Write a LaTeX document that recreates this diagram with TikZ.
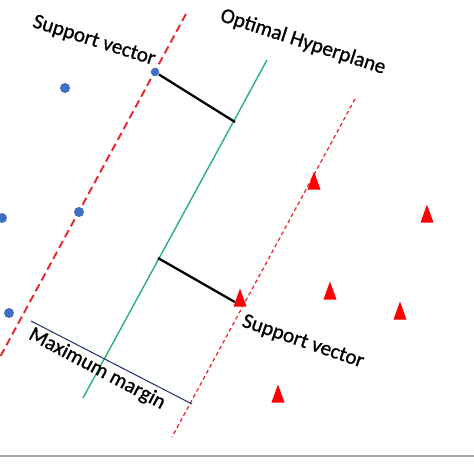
\documentclass[tikz,border=0pt]{standalone}
\usepackage{fontspec}
\setmainfont{Carlito}
\newfontfamily\lblfont[BoldFont={Carlito}, BoldFeatures={FakeBold=0.9}]{Carlito}
\usepackage{tikz}
\usetikzlibrary{shapes.geometric,backgrounds}
\definecolor{dotblue}{HTML}{3F6FC2}
\definecolor{trired}{HTML}{FF0000}
\definecolor{svred}{HTML}{E8262E}
\definecolor{hypgreen}{HTML}{2EB07A}
\definecolor{marginblue}{HTML}{203864}

\begin{document}
\begin{tikzpicture}[
  x=0.02cm, y=-0.02cm,
  every node/.style={font=\lblfont\bfseries\fontsize{12}{14}\selectfont},
  dot/.style={circle, fill=dotblue, draw=none, inner sep=0pt, minimum size=0.2cm},
  tri/.style={
    isosceles triangle, isosceles triangle stretches, shape border rotate=90,
    fill=trired, draw=none, inner sep=0pt, minimum width=0.26cm, minimum height=0.36cm,
  },
  lbl/.style={inner sep=1pt, text=black},
  svline/.style={svred, line width=1.1pt, dash pattern=on 4.5pt off 2.5pt},
  svlinethin/.style={svred, line width=0.7pt, dash pattern=on 2.2pt off 1.7pt},
  hypline/.style={hypgreen, line width=0.8pt},
  distline/.style={black, line width=1.3pt},
  marginline/.style={marginblue, line width=0.6pt},
]

% ── Frame (picture is 474 x 474 px) ──
\useasboundingbox (0,0) rectangle (474,474);
\draw[gray!70, line width=0.6pt] (0,456) -- (474,456);

% ── Class A (blue dots) ──
\node[dot]                          (a1)  at (65,88)  {};
\node[dot, minimum size=0.17cm]     (svA) at (155,72) {};
\node[dot]                          (a2)  at (79,212) {};
\node[dot]                          (a3)  at (2,218)  {};
\node[dot]                          (a4)  at (9,313)  {};

% ── Class B (red triangles) ──
\node[tri] (b1)  at (314,185) {};
\node[tri] (b2)  at (427,218) {};
\node[tri] (b3)  at (330,295) {};
\node[tri] (b4)  at (400,315) {};
\node[tri] (b5)  at (278,398) {};
\node[tri] (svB) at (240,302) {};

% ── Line end points ──
\coordinate (svAtop) at (186,14);
\coordinate (svAbot) at (0,357);
\coordinate (hyptop) at (267,60);
\coordinate (hypbot) at (83,398);
\coordinate (svBtop) at (355,99);
\coordinate (svBbot) at (172,437);
\coordinate (footA)  at (235,122);
\coordinate (footB)  at (158,258);
\coordinate (mleft)  at (31,321);
\coordinate (mright) at (192,404);

\begin{scope}[on background layer]
  % ── Margin boundaries and hyperplane ──
  \draw[svline]     (svAtop) -- (svAbot);
  \draw[svlinethin] (svBtop) -- (svBbot);
  \draw[hypline]    (hyptop) -- (hypbot);

  % ── Distances to the hyperplane ──
  \draw[distline] (svA) -- (footA);
  \draw[distline] (footB) -- (svB.west);
  \draw[marginline] (mleft) -- (mright);
\end{scope}

% ── Labels ──
\node[lbl, rotate=-17.5] (lblsvA) at (94,41)   {Support vector};
\node[lbl, rotate=-18]   (lblhyp) at (303,42)  {Optimal Hyperplane};
\node[lbl, rotate=-19]   (lblsvB) at (303,342) {Support vector};
\node[lbl, rotate=-28]   (lblmm)  at (97,369)  {Maximum margin};

\end{tikzpicture}
\end{document}
